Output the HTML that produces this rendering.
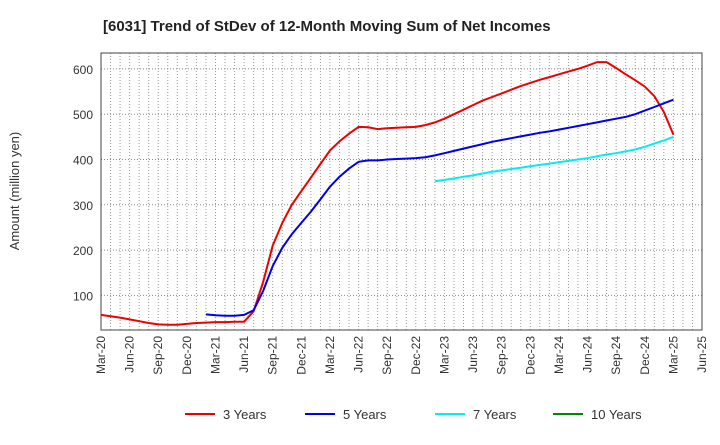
<!DOCTYPE html>
<html><head><meta charset="utf-8"><style>
body{margin:0;background:#fff;font-family:"Liberation Sans",sans-serif;}
</style></head><body>
<svg width="720" height="440" xmlns="http://www.w3.org/2000/svg" font-family="Liberation Sans, sans-serif">
<text x="103" y="31" font-size="15" font-weight="bold" fill="#222">[6031]  Trend of StDev of 12-Month Moving Sum of Net Incomes</text>
<text transform="translate(19,191) rotate(-90)" text-anchor="middle" font-size="13" fill="#333">Amount (million yen)</text>
<g id="grid"></g><g id="axes"></g><g id="series"></g>
<g id="legend"></g>
</svg>
<script>
const xLabels=["Mar-20","Jun-20","Sep-20","Dec-20","Mar-21","Jun-21","Sep-21","Dec-21","Mar-22","Jun-22","Sep-22","Dec-22","Mar-23","Jun-23","Sep-23","Dec-23","Mar-24","Jun-24","Sep-24","Dec-24","Mar-25","Jun-25"];
const yTicks=[100,200,300,400,500,600];
const red3=[57,54,51,47,43,39,36,35,35,37,39,40,41,41,42,42,65,130,210,260,300,330,360,390,420,440,457,472,471,467,469,470,471,472,476,482,490,500,510,520,530,538,546,554,562,569,576,582,588,594,600,607,615,615,602,588,575,561,540,505,455];
const blue5=[58,56,55,55,57,67,110,165,205,235,260,285,312,340,362,380,395,398,398,400,401,402,403,405,409,414,419,424,429,434,439,443,447,451,455,459,462,466,470,474,478,482,486,490,494,500,508,516,524,532];
const cyan7=[352,355,358,362,365,369,373,376,379,382,385,388,391,394,397,400,403,407,411,414,418,422,428,435,442,450];
const blue5Start=11, cyan7Start=35;
const L=101,R=702,T=53,B=330;
const xm=m=>L+m*(R-L)/63;
const yv=v=>340.7-v*0.453;
const NS="http://www.w3.org/2000/svg";
function mk(p,t,a){const e=document.createElementNS(NS,t);for(const k in a)e.setAttribute(k,a[k]);p.appendChild(e);return e;}
const grid=document.getElementById('grid'),axes=document.getElementById('axes'),ser=document.getElementById('series'),leg=document.getElementById('legend');
for(let m=1;m<63;m++){const l=mk(grid,'line',{x1:xm(m),x2:xm(m),y1:T,y2:B,stroke:'#999','stroke-dasharray':'1,2','stroke-width':1});

}
yTicks.forEach(v=>{const l=mk(grid,'line',{x1:L,x2:R,y1:yv(v),y2:yv(v),stroke:'#888','stroke-dasharray':'1,2','stroke-width':1});


const t=mk(axes,'text',{x:L-8,y:yv(v)+5,'text-anchor':'end','font-size':12,fill:'#333'});t.textContent=v;

});
const fr=mk(axes,'rect',{x:L,y:T,width:R-L,height:B-T,fill:'none',stroke:'#444','stroke-width':1});


xLabels.forEach((s,i)=>{const x=xm(i*3);const t=mk(axes,'text',{transform:`translate(${x+4},${B+6}) rotate(-90)`,'text-anchor':'end','font-size':12,fill:'#333'});t.textContent=s;

});
function line(arr,start,color,name){const pts=arr.map((v,i)=>xm(start+i).toFixed(1)+','+yv(v).toFixed(1)).join(' ');
const p=mk(ser,'polyline',{points:pts,fill:'none',stroke:color,'stroke-width':2});

}
line(red3,0,'#ee0000','series-3-years');
line(blue5,blue5Start,'#0000ee','series-5-years');
line(cyan7,cyan7Start,'#00eeee','series-7-years');
const legItems=[["3 Years","#ee0000",185],["5 Years","#0000ee",305],["7 Years","#00eeee",435],["10 Years","#008800",553]];
legItems.forEach(([s,c,x])=>{const g=mk(leg,'g',{});


mk(g,'line',{x1:x,x2:x+30,y1:414,y2:414,stroke:c,'stroke-width':2});
const t=mk(g,'text',{x:x+38,y:419,'font-size':13,fill:'#333'});t.textContent=s;});
</script>
</body></html>
